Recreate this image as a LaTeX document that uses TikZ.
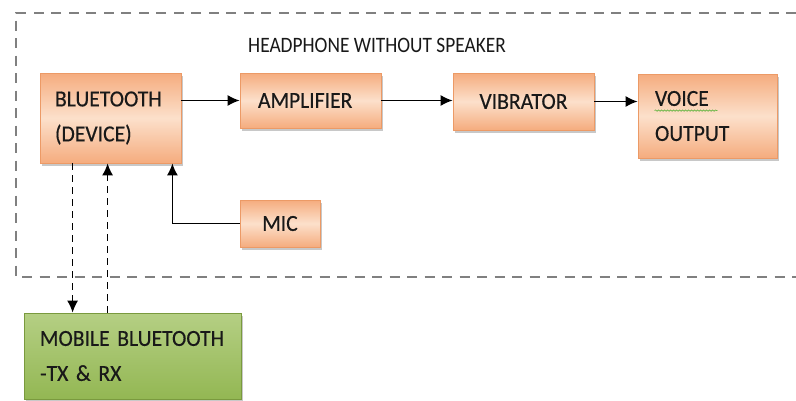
\documentclass[tikz,border=0pt]{standalone}
\usepackage{fontspec}
\setmainfont{Carlito}[FakeStretch=0.88]
\newfontfamily\boxfont{Carlito}[FakeStretch=0.94, FakeBold=0.4]
\usetikzlibrary{arrows.meta,shadows,decorations.pathmorphing,calc}
\definecolor{peachlight}{HTML}{FCE0CB}
\definecolor{peach}{HTML}{F5AC7E}
\definecolor{peachedge}{HTML}{EC9A66}
\definecolor{leaflight}{HTML}{B5CF84}
\definecolor{leaf}{HTML}{93B753}
\definecolor{leafedge}{HTML}{7A9A3E}
\definecolor{framegray}{HTML}{808080}
\definecolor{spellgreen}{HTML}{5BB33A}
\begin{document}
\hyphenpenalty=10000\relax
\spaceskip=4.5pt\relax
\begin{tikzpicture}[x=1pt,y=-1pt,
  txt/.style={font=\fontsize{22}{35}\selectfont, text=black!90},
  btxt/.style={font=\boxfont\fontsize{23}{35}\selectfont, text=black!90},
  shade/.style={drop shadow={shadow xshift=2pt, shadow yshift=-3pt, opacity=0.3, fill=black!70}},
  obox/.style={btxt, shade, draw=peachedge, line width=0.8pt,
    top color=peach, bottom color=peach, middle color=peachlight,
    inner ysep=0pt},
  gbox/.style={btxt, shade, draw=leafedge, line width=0.8pt,
    top color=leaflight, bottom color=leaf, inner ysep=0pt},
  arr/.style={-{Latex[length=12pt,width=11pt]}, line width=1.4pt, black},
  darr/.style={arr, dash pattern=on 7pt off 5pt},
  framestyle/.style={draw=framegray, line width=1.8pt, dash pattern=on 10pt off 7.5pt}]

\useasboundingbox (0,0) rectangle (796,400);
\fill[white] (0,0) rectangle (796,400);

% enclosure of the headphone
\draw[framestyle] (796,13) -- (16,13) -- (16,277) -- (796,277);
\node[txt, anchor=base west, inner sep=0pt] (title) at (248,52) {HEADPHONE WITHOUT SPEAKER};

% blocks
\node[obox, minimum width=141pt, minimum height=90pt, inner xsep=15pt,
      text width=111pt, align=left] (bt) at (110.5,118) {BLUETOOTH\\(DEVICE)};
\node[obox, minimum width=141pt, minimum height=55pt, inner xsep=18pt,
      text width=105pt, align=left] (amp) at (310.5,100.5) {AMPLIFIER};
\node[obox, minimum width=141pt, minimum height=57pt] (vib) at (523.5,101.5) {VIBRATOR};
\node[obox, minimum width=139pt, minimum height=84pt, inner xsep=17pt,
      text width=105pt, align=left] (voice) at (707.5,116) {VOICE\\OUTPUT};
\node[obox, minimum width=80pt, minimum height=47pt] (mic) at (280,223.5) {MIC};
\node[gbox, minimum width=217pt, minimum height=86pt, inner xsep=16pt,
      text width=185pt, align=left] (mob) at (132.5,356) {MOBILE BLUETOOTH\\-TX \& RX};

% spelling mark under VOICE
\draw[spellgreen, line width=0.6pt, decorate,
      decoration={snake, amplitude=0.7pt, segment length=3pt}]
  ($(voice.north west)+(17,37)$) -- ($(voice.north west)+(80,37)$);

% signal path
\draw[arr] (bt.east |- amp.west) -- (amp.west);
\draw[arr] (amp.east) -- (vib.west |- amp.east);
\draw[arr] (vib.east) -- (voice.west |- vib.east);
\draw[arr] (mic.west) -| ([xshift=-9pt]bt.south east);

% wireless link to the phone
\draw[darr] ([xshift=33pt]bt.south west) -- ([xshift=33pt]bt.south west |- mob.north);
\draw[darr] ([xshift=68pt]bt.south west |- mob.north) -- ([xshift=68pt]bt.south west);
\end{tikzpicture}
\end{document}
